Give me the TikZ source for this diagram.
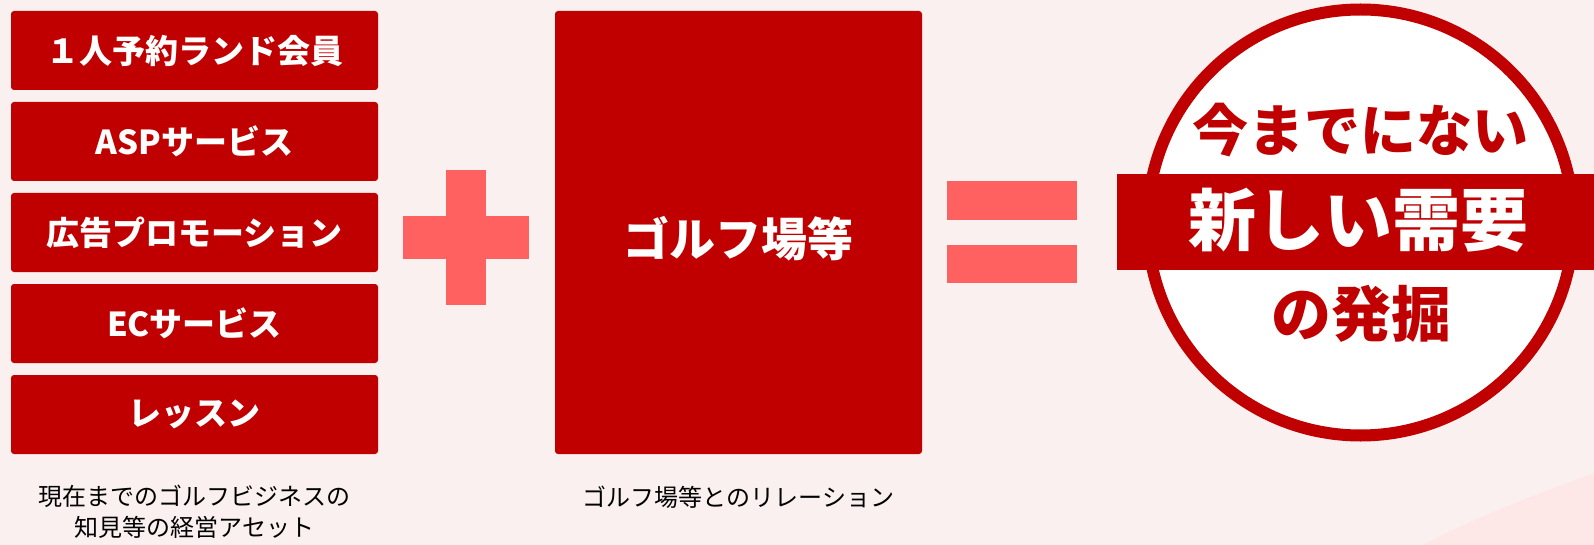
\documentclass[tikz,border=0pt]{standalone}
\usepackage{fontspec}
\newfontfamily\jpfont{Noto Sans CJK JP}
\definecolor{bgpink}{HTML}{FAF0F0}
\definecolor{paleband}{HTML}{FDE7E7}
\definecolor{darkred}{HTML}{C00000}
\definecolor{lightred}{HTML}{FF6161}

\begin{document}
\begin{tikzpicture}[x=1pt,y=-1pt]

	\tikzstyle{assetbox} = [fill=darkred,rounded corners=3pt,minimum width=367pt,minimum height=79pt,inner sep=0pt,text=white,font=\jpfont\bfseries\fontsize{33}{38}\selectfont]
	\tikzstyle{caption} = [align=center,text=black,font=\jpfont\fontsize{24}{31}\selectfont]
	\tikzstyle{symbolbar} = [fill=lightred]

	% background
	\fill[bgpink] (0,0) rectangle (1594,545);
	\fill[paleband] (1423,545) .. controls (1490,510) and (1550,490) .. (1594,473) -- (1594,545) -- cycle;
	\useasboundingbox (0,0) rectangle (1594,545);

	% left column
	\foreach \name/\txt [count=\i from 0] in {kaiin/１人予約ランド会員,asp/ASPサービス,koukoku/広告プロモーション,ec/ECサービス,lesson/レッスン}
		\node[assetbox] (\name) at (194.5,50.5+91*\i) {\txt};

	\node[caption] (asset) at (194.5,512) {現在までのゴルフビジネスの\\知見等の経営アセット};

	% plus
	\fill[symbolbar] (446,170) rectangle (486,305);
	\fill[symbolbar] (403,216) rectangle (529,259);

	% golf course box
	\node[assetbox,minimum height=443pt] (golf) at (738.5,232.5) {};
	\node[text=white,font=\jpfont\bfseries\fontsize{46}{50}\selectfont] (golflabel) at (738.5,239) {ゴルフ場等};
	\node[caption] (relation) at (738.5,497) {ゴルフ場等とのリレーション};

	% equals
	\fill[symbolbar] (947,181) rectangle (1077,220);
	\fill[symbolbar] (947,245) rectangle (1077,283);

	% result circle
	\draw[darkred,line width=12pt,fill=white] (1360.5,222.5) circle [radius=213];
	\fill[darkred] (1117,174) rectangle (1594,270);
	\node[text=darkred,font=\jpfont\bfseries\fontsize{56}{60}\selectfont] (imamade) at (1360,130) {今までにない};
	\node[text=white,font=\jpfont\bfseries\fontsize{68}{72}\selectfont] (juyou) at (1358,220) {新しい需要};
	\node[text=darkred,font=\jpfont\bfseries\fontsize{60}{64}\selectfont] (hakkutsu) at (1361,314) {の発掘};

\end{tikzpicture}
\end{document}
